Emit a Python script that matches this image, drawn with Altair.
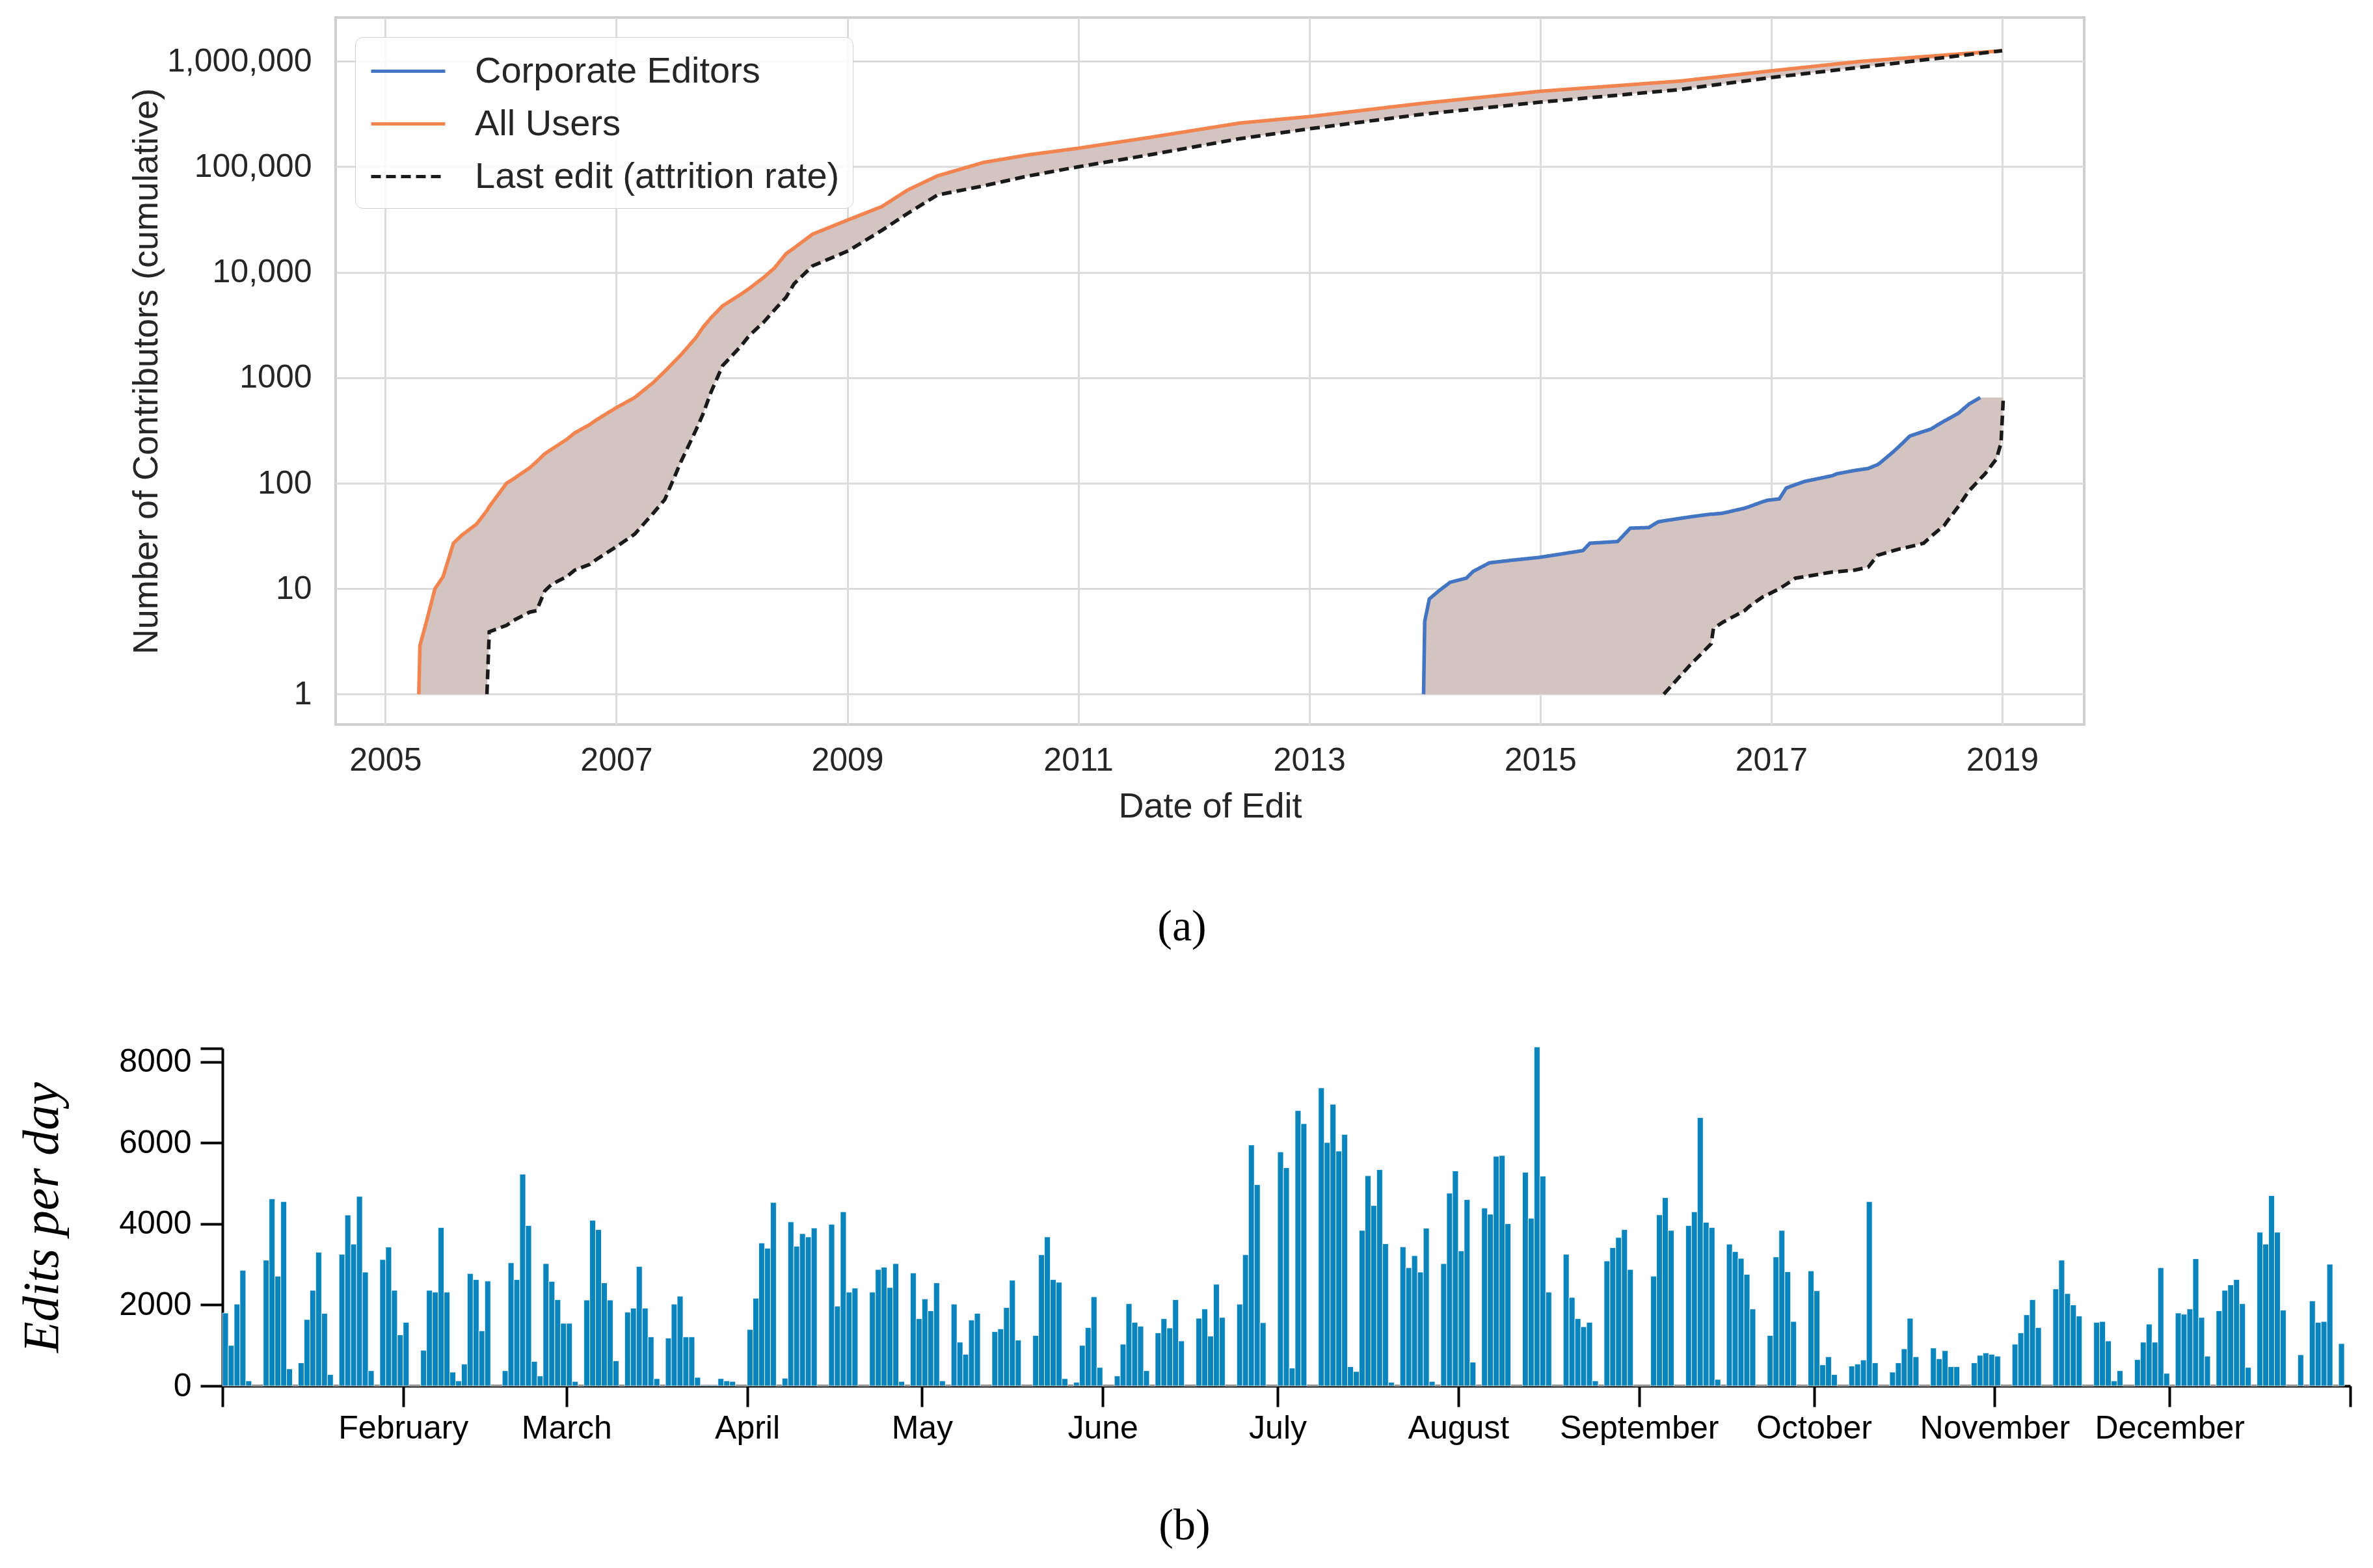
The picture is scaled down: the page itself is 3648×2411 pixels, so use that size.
import altair as alt
import pandas as pd

# ---------------- panel (a): cumulative contributors ----------------
all_years = [2005.29, 2005.30, 2005.35, 2005.43, 2005.50, 2005.59, 2005.66, 2005.79,
             2005.88, 2005.90, 2006.05, 2006.11, 2006.25, 2006.31, 2006.38, 2006.44,
             2006.57, 2006.64, 2006.77, 2006.83, 2007.00, 2007.16, 2007.32, 2007.42,
             2007.56, 2007.69, 2007.75, 2007.82, 2007.92, 2008.08, 2008.15, 2008.28,
             2008.37, 2008.47, 2008.54, 2008.70, 2009.01, 2009.30, 2009.52, 2009.78,
             2010.18, 2010.57, 2011.00, 2011.62, 2012.40, 2013.01, 2013.98, 2015.00,
             2016.21, 2016.99, 2017.78, 2019.00]
all_users = [1, 2.9, 4.6, 10, 13, 27, 32, 41,
             55, 60, 100, 110, 140, 160, 190, 210,
             260, 300, 360, 400, 520, 650, 900, 1150,
             1650, 2400, 3000, 3700, 4800, 6200, 7000, 9000,
             11000, 15000, 17000, 23000, 31500, 42000, 60000, 82000,
             110000, 130000, 150000, 190000, 260000, 300000, 400000, 520000,
             650000, 810000, 1000000, 1260000]
all_last = [None, None, None, None, None, None, None, None,
            1, 3.9, 4.5, 5, 6, 6.2, 9.5, 11,
            13, 15, 17, 19, 25, 33, 52, 70,
            160, 320, 450, 730, 1300, 2000, 2500, 3400,
            4400, 5800, 7800, 11500, 16000, 25000, 36000, 54000,
            66000, 82000, 100000, 130000, 185000, 230000, 315000, 410000,
            540000, 700000, 880000, 1260000]

corp_years = [2013.99, 2014.00, 2014.04, 2014.12, 2014.22, 2014.36, 2014.42, 2014.56,
              2014.75, 2014.99, 2015.19, 2015.37, 2015.43, 2015.67, 2015.78, 2015.94,
              2016.02, 2016.07, 2016.30, 2016.48, 2016.50, 2016.58, 2016.77, 2016.81,
              2016.93, 2016.97, 2017.07, 2017.13, 2017.21, 2017.29, 2017.53, 2017.57,
              2017.72, 2017.84, 2017.92, 2017.94, 2018.06, 2018.12, 2018.20, 2018.32,
              2018.38, 2018.50, 2018.52, 2018.62, 2018.71, 2018.81, 2018.85, 2018.95,
              2018.99, 2019.01]
corp_editors = [1, 4.9, 8.0, 9.5, 11.5, 12.6, 14.6, 17.6,
                18.6, 19.8, 21.4, 23, 27, 28, 37.5, 38,
                43, 44, 48, 51, 51, 52, 58, 60,
                67, 69, 71, 90, 97, 104, 118, 123,
                132, 138, 150, 155, 200, 230, 280, 310,
                325, 390, 400, 460, 560, 650, None, None,
                None, None]
corp_last = [None, None, None, None, None, None, None, None,
             None, None, None, None, None, None, None, None,
             None, 1, 1.9, 3.0, 4.2, 4.8, 6.2, 6.8,
             8.4, 8.8, 10, 11, 12.6, 13, 14.4, 14.5,
             15, 16, 20.7, 21, 23, 24, 25, 27,
             31, 40, 43, 60, 84, 110, 122, 170,
             240, 650]
CORP_FINAL = 650      # top of the shaded corporate band after the blue line ends
FILL_FLOOR = 1        # shaded bands stop at the "1" gridline

series_names = ["Corporate Editors", "All Users", "Last edit (attrition rate)"]
series_colors = ["#4375c2", "#f28450", "#1a1a1a"]

# ---------------- panel (b): edits per day ----------------
daily_edits = [
    1800, 1000, 2020, 2855, 125, 0, 0, 3105, 4620, 2710, 4550, 420, 0, 570, 1640, 2360,
    3300, 1790, 280, 0, 3250, 4220, 3500, 4680, 2810, 375, 0, 3120, 3430, 2360, 1260, 1570,
    0, 0, 880, 2360, 2315, 3910, 2315, 340, 125, 540, 2775, 2625, 1360, 2590, 0, 0,
    375, 3040, 2625, 5230, 3960, 605, 245, 3020, 2580, 2130, 1545, 1545, 110, 0, 2120, 4090,
    3860, 2545, 2120, 620, 0, 1820, 1920, 2950, 1920, 1210, 180, 0, 1180, 2020, 2215, 1210,
    1210, 210, 15, 15, 15, 180, 125, 110, 0, 0, 1395, 2165, 3530, 3400, 4530, 0,
    190, 4050, 3450, 3760, 3680, 3900, 0, 0, 3990, 1970, 4300, 2315, 2415, 0, 0, 2315,
    2875, 2930, 2430, 3020, 110, 0, 2790, 1660, 2150, 1855, 2545, 125, 0, 2020, 1080, 780,
    1625, 1790, 0, 0, 1340, 1410, 1935, 2610, 1130, 0, 0, 1245, 3240, 3680, 2625, 2560,
    180, 0, 90, 1000, 1440, 2200, 455, 0, 0, 245, 1030, 2030, 1570, 1475, 375, 0,
    1310, 1660, 1430, 2130, 1110, 0, 0, 1670, 1900, 1230, 2510, 1690, 0, 0, 2020, 3240,
    5950, 4970, 1560, 0, 0, 5780, 5390, 440, 6800, 6475, 0, 0, 7360, 6010, 6955, 5800,
    6210, 475, 355, 3840, 5190, 4455, 5340, 3510, 90, 0, 3435, 2920, 3215, 2810, 3895, 110,
    0, 3020, 4760, 5310, 3335, 4600, 585, 0, 4390, 4240, 5670, 5690, 4005, 0, 0, 5275,
    4140, 8370, 5180, 2315, 0, 0, 3250, 2185, 1660, 1460, 1570, 125, 0, 3085, 3415, 3665,
    3860, 2875, 0, 0, 0, 2710, 4225, 4650, 3840, 0, 0, 3960, 4300, 6625, 4040, 3910,
    160, 0, 3500, 3315, 3150, 2755, 1900, 0, 0, 1245, 3185, 3840, 2820, 1590, 0, 0,
    2840, 2350, 520, 720, 280, 0, 0, 490, 540, 640, 4550, 570, 0, 0, 340, 570,
    915, 1670, 720, 0, 0, 935, 670, 870, 475, 475, 0, 0, 570, 755, 815, 780,
    735, 0, 0, 1030, 1310, 1755, 2130, 1440, 0, 0, 2395, 3105, 2280, 2000, 1725, 0,
    0, 1570, 1590, 1110, 125, 375, 0, 0, 650, 1080, 1525, 1080, 2920, 310, 0, 1800,
    1770, 1900, 3140, 1690, 735, 0, 1855, 2360, 2495, 2625, 2030, 455, 0, 3795, 3500, 4700,
    3795, 1870, 0, 0, 770, 0, 2100, 1570, 1590, 3005, 0, 1045,
]
month_starts = [0, 31, 59, 90, 120, 151, 181, 212, 243, 273, 304, 334, 365]
month_names = ["", "February", "March", "April", "May", "June", "July", "August",
               "September", "October", "November", "December", ""]
edit_ticks = [0, 2000, 4000, 6000, 8000]
EDIT_AXIS_TOP = 8336

# ---------------- build tables ----------------
line_rows = []
for yr, v in zip(all_years, all_users):
    line_rows.append(dict(year=yr, value=v, series="All Users", line="all"))
for yr, v in zip(all_years, all_last):
    if v is not None:
        line_rows.append(dict(year=yr, value=v, series="Last edit (attrition rate)", line="all_last"))
for yr, v in zip(corp_years, corp_editors):
    if v is not None:
        line_rows.append(dict(year=yr, value=v, series="Corporate Editors", line="corp"))
for yr, v in zip(corp_years, corp_last):
    if v is not None:
        line_rows.append(dict(year=yr, value=v, series="Last edit (attrition rate)", line="corp_last"))
lines_df = pd.DataFrame(line_rows)

band_rows = []
for yr, top, bot in zip(all_years, all_users, all_last):
    band_rows.append(dict(year=yr, top=top, bottom=bot if bot is not None else FILL_FLOOR, band="all"))
for yr, top, bot in zip(corp_years, corp_editors, corp_last):
    band_rows.append(dict(year=yr, top=top if top is not None else CORP_FINAL,
                          bottom=bot if bot is not None else FILL_FLOOR, band="corp"))
bands_df = pd.DataFrame(band_rows)

TXT = "#262626"
SANS = "Liberation Sans"
SERIF = "Liberation Serif"

x_top_scale = alt.Scale(domain=[2004.57, 2019.71], nice=False, zero=False)
y_top_scale = alt.Scale(type="log", domain=[0.516, 2.6e6], nice=False)

x_top_axis = alt.Axis(values=[2005, 2007, 2009, 2011, 2013, 2015, 2017, 2019], format="d",
                      title="Date of Edit", grid=True, gridColor="#dcdcdc", gridWidth=3,
                      ticks=False, domain=False, labelFont=SANS, labelFontSize=50,
                      labelColor=TXT, labelPadding=30, labelFlush=False, labelOverlap=False,
                      titleFont=SANS, titleFontSize=54, titleFontWeight="normal",
                      titleColor=TXT, titlePadding=19)
y_top_axis = alt.Axis(values=[1, 10, 100, 1000, 10000, 100000, 1000000],
                      labelExpr="datum.value >= 10000 ? format(datum.value, ',') : format(datum.value, 'd')",
                      title="Number of Contributors (cumulative)", grid=True, gridColor="#dcdcdc",
                      gridWidth=3, ticks=False, domain=False, labelFont=SANS, labelFontSize=50,
                      labelColor=TXT, labelPadding=37, labelFlush=False, labelOverlap=False,
                      labelLimit=0, maxExtent=400, titleFont=SANS, titleFontSize=54,
                      titleFontWeight="normal", titleColor=TXT, titlePadding=4)

legend = alt.Legend(title=None, orient="top-left", offset=30,
                    symbolType="M-1.9,0H1.9", symbolSize=3600, symbolStrokeWidth=5,
                    symbolOffset=29, labelOffset=70, padding=20, rowPadding=20,
                    fillColor="rgba(255,255,255,0.85)", strokeColor="#d0d0d0",
                    cornerRadius=12, labelFont=SANS, labelFontSize=56, labelColor=TXT,
                    labelLimit=0)

bands = alt.Chart(bands_df).mark_area(color="#d4c4c1", clip=True).encode(
    x=alt.X("year:Q", scale=x_top_scale, axis=x_top_axis),
    y=alt.Y("top:Q", scale=y_top_scale, axis=y_top_axis),
    y2="bottom:Q",
    detail="band:N",
)

lines = alt.Chart(lines_df).mark_line(strokeWidth=5.5, clip=True).encode(
    x=alt.X("year:Q", scale=x_top_scale, axis=x_top_axis),
    y=alt.Y("value:Q", scale=y_top_scale, axis=y_top_axis),
    color=alt.Color("series:N", scale=alt.Scale(domain=series_names, range=series_colors),
                    legend=legend),
    strokeDash=alt.StrokeDash("series:N",
                              scale=alt.Scale(domain=series_names, range=[[1, 0], [1, 0], [15, 8]]),
                              legend=legend),
    detail="line:N",
    order="year:Q",
)

top = alt.layer(bands, lines).properties(
    width=2688, height=1087,
    view=alt.ViewBackground(stroke="#cfcfcf", strokeWidth=4),
    title=alt.TitleParams("(a)", orient="bottom", anchor="middle", dx=-43, offset=125,
                          font=SERIF, fontSize=68, fontWeight="normal", color="black"),
)

# empty strip that shifts panel (a) right of panel (b), as in the original figure
spacer = alt.Chart(pd.DataFrame({"v": [0]})).mark_point(opacity=0).encode(
    x=alt.value(0), y=alt.value(0)
).properties(width=174, height=10, view=alt.ViewBackground(stroke="transparent"))

top_block = alt.hconcat(spacer, top, spacing=0, bounds="flush").resolve_legend(
    color="independent", strokeDash="independent"
).resolve_scale(color="independent", strokeDash="independent")

bars_df = pd.DataFrame({"day": list(range(len(daily_edits))), "edits": daily_edits})

label_expr = ("[" + ",".join("'" + m + "'" for m in month_names) + "][indexof(["
              + ",".join(str(d) for d in month_starts) + "], datum.value)]")

bottom = alt.Chart(bars_df).transform_calculate(
    day_end="datum.day + 1"
).mark_bar(color="#0a84bc", stroke="white", strokeWidth=0.8).encode(
    x=alt.X("day:Q", scale=alt.Scale(domain=[0, 365], nice=False, zero=False),
            axis=alt.Axis(values=month_starts, labelExpr=label_expr, title=None, grid=False,
                          domainColor="black", domainWidth=4, tickColor="black", tickWidth=4,
                          tickSize=32, labelFont=SANS, labelFontSize=50, labelColor="black",
                          labelPadding=8, labelFlush=False, labelOverlap=False, labelLimit=0)),
    x2="day_end:Q",
    y=alt.Y("edits:Q", scale=alt.Scale(domain=[0, EDIT_AXIS_TOP], nice=False),
            axis=alt.Axis(values=edit_ticks + [EDIT_AXIS_TOP],
                          labelExpr="datum.value > 8000 ? '' : format(datum.value, 'd')",
                          title="Edits per day", grid=False, domainColor="black",
                          domainWidth=4, tickColor="black", tickWidth=4, tickSize=34,
                          labelFont=SANS, labelFontSize=50, labelColor="black",
                          labelPadding=14, labelFlush=False, labelOverlap=False,
                          titleFont=SERIF, titleFontStyle="italic", titleFontWeight="normal",
                          titleFontSize=78, titleColor="black", titlePadding=78)),
    y2=alt.datum(0),
).properties(
    width=3271, height=519,
    view=alt.ViewBackground(stroke="transparent"),
    title=alt.TitleParams("(b)", orient="bottom", anchor="middle", frame="bounds", offset=92,
                          font=SERIF, fontSize=68, fontWeight="normal", color="black"),
)

chart = alt.vconcat(
    top_block,
    bottom,
    spacing=124,
).properties(
    padding={"left": 18, "top": 15, "right": 5, "bottom": 5},
    background="white",
)

chart.save("out.html", embed_options={"renderer": "svg", "actions": False})
